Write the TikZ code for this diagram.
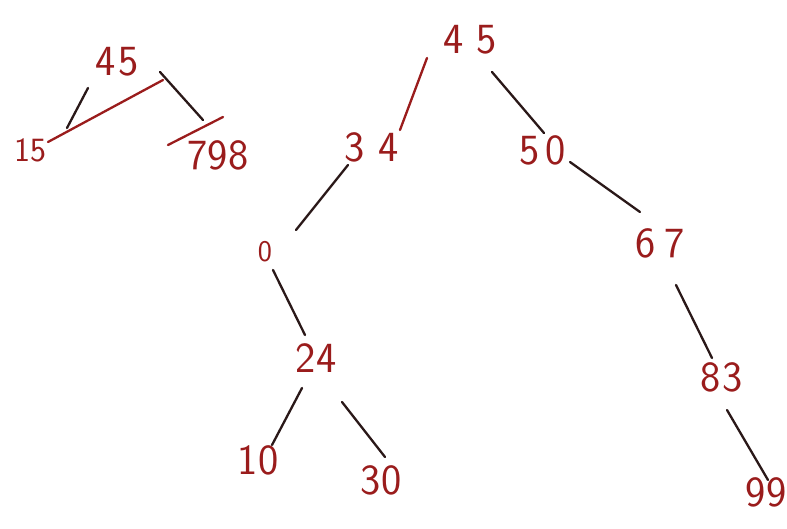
\documentclass[tikz,border=0pt]{standalone}
\usepackage{tikz}
\definecolor{ink}{HTML}{9A1C1C}
\definecolor{dark}{HTML}{2A1818}
\begin{document}
\begin{tikzpicture}[x=1pt,y=-1pt,
  num/.style={text=ink,font=\sffamily\fontsize{43}{46}\selectfont,inner sep=0pt},
  small/.style={num,font=\sffamily\fontsize{34}{38}\selectfont},
  tiny/.style={num,font=\sffamily\fontsize{30}{34}\selectfont},
  edge/.style={draw=dark,line width=2.3pt,line cap=round},
  redline/.style={draw=ink,line width=2.3pt,line cap=round}]
\useasboundingbox[fill=white] (0,0) rectangle (787,529);
% left small tree
\node[num] (l45) at (117,62) {4\kern3pt5};
\node[small] (l15) at (30,150) {15};
\node[num] (l798) at (218,155) {798};
% main tree
\node[num] (m45) at (470,40) {4\kern12pt5};
\node[num] (m34) at (372,147) {3\kern14pt4};
\node[num] (m50) at (543,150) {5\kern6pt0};
\node[tiny] (m0) at (265,252) {0};
\node[num] (m67) at (660,243) {6\kern8pt7};
\node[num] (m24) at (316,358) {24};
\node[num] (m83) at (722,377) {8\kern2pt3};
\node[num] (m10) at (258,460) {10};
\node[num] (m30) at (381,480) {30};
\node[num] (m99) at (766,492) {99};
% left tree connectors
\draw[edge] ([shift={(-29,26)}]l45.center) -- ([shift={(37,-22)}]l15.center);
\draw[edge] ([shift={(43,10)}]l45.center) -- ([shift={(-15,-35)}]l798.center);
\draw[redline] ([shift={(18,-8)}]l15.center) -- ([shift={(46,18)}]l45.center);
\draw[redline] ([shift={(-50,-10)}]l798.center) -- ([shift={(5,-38)}]l798.center);
% main tree connectors
\draw[redline] ([shift={(-43,18)}]m45.center) -- ([shift={(28,-17)}]m34.center);
\draw[edge] ([shift={(22,32)}]m45.center) -- ([shift={(1,-17)}]m50.center);
\draw[edge] ([shift={(-24,18)}]m34.center) -- ([shift={(31,-22)}]m0.center);
\draw[edge] ([shift={(27,12)}]m50.center) -- ([shift={(-20,-31)}]m67.center);
\draw[edge] ([shift={(8,18)}]m0.center) -- ([shift={(-11,-23)}]m24.center);
\draw[edge] ([shift={(16,42)}]m67.center) -- ([shift={(-10,-19)}]m83.center);
\draw[edge] ([shift={(-14,30)}]m24.center) -- ([shift={(14,-15)}]m10.center);
\draw[edge] ([shift={(26,44)}]m24.center) -- ([shift={(4,-23)}]m30.center);
\draw[edge] ([shift={(5,33)}]m83.center) -- ([shift={(2,-12)}]m99.center);
\end{tikzpicture}
\end{document}
